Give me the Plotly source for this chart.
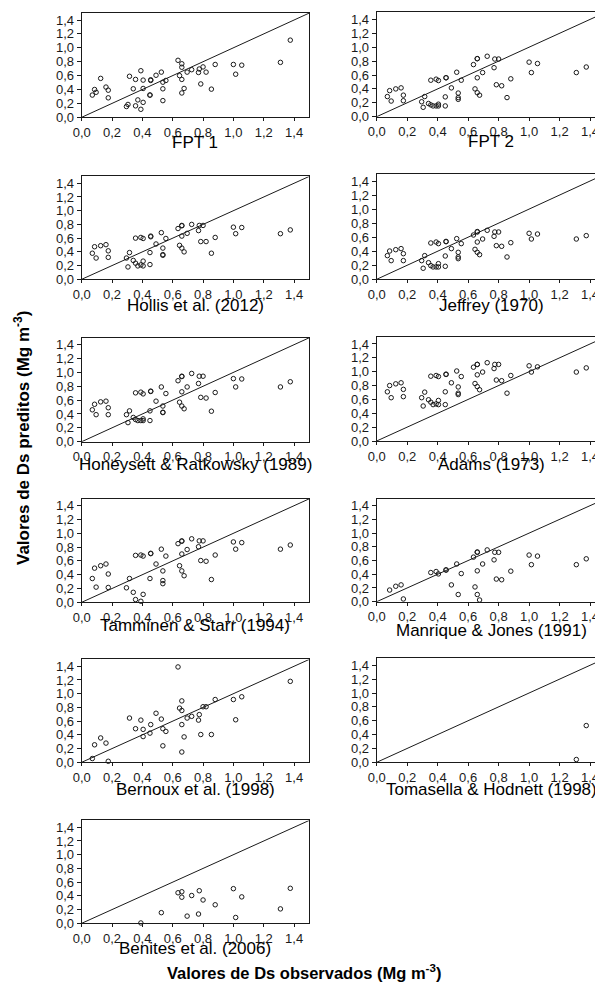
import plotly.graph_objects as go

# Observed Ds values (common to all panels)
obs = [0.07, 0.085, 0.095, 0.125, 0.16, 0.175, 0.175, 0.295, 0.305, 0.315,
       0.34, 0.355, 0.355, 0.37, 0.39, 0.39, 0.405, 0.405, 0.405, 0.455,
       0.455, 0.45, 0.45, 0.49, 0.525, 0.535, 0.535, 0.535, 0.555, 0.635,
       0.645, 0.66, 0.66, 0.66, 0.66, 0.675, 0.695, 0.725, 0.77, 0.775,
       0.785, 0.80, 0.82, 0.855, 0.88, 1.00, 1.015, 1.055, 1.31, 1.375]

N = None
fpt1 = [.32, .40, .36, .56, .435, .39, .28, .155, .185, .59,
        .41, .545, .165, .25, .67, .115, .535, .215, .415, .54,
        .53, .32, .32, .605, .65, .505, .41, .24, .53, .82,
        .60, .77, .72, .545, .35, .415, .65, .685, .645, .695,
        .48, .725, .65, .405, .76, .76, .62, .75, .79, 1.11]
fpt2 = [.29, .375, .225, .40, .415, .31, .23, .215, .135, .29,
        .19, .525, .17, .155, .54, .155, .52, .18, .155, .56,
        .56, .285, .155, .415, .64, .34, .275, .25, .525, .75,
        .40, .835, .835, .56, .345, .31, .635, .87, .705, .83,
        .46, .83, .445, .275, .545, .785, .635, .765, .635, .715]
hollis = [.38, .475, .31, .49, .505, .415, .32, .31, .18, .39,
          .275, .60, .235, .195, .61, .21, .595, .265, .195, .63,
          .62, .39, .215, .515, .68, .455, .36, .35, .595, .74,
          .495, .785, .78, .63, .455, .40, .67, .80, .71, .785,
          .55, .785, .55, .38, .61, .76, .665, .755, .665, .72]
jeffrey = [.337, .403, .266, .422, .437, .365, .266, .266, .157, .337,
           .237, .517, .195, .176, .531, .176, .508, .223, .176, .54,
           .535, .332, .185, .437, .579, .384, .318, .294, .508, .631,
           .427, .674, .68, .531, .384, .351, .574, .698, .612, .674,
           .479, .674, .47, .318, .522, .655, .574, .645, .574, .622]
honeysett = [.46, .54, .39, .575, .585, .49, .39, .39, .275, .445,
             .35, .705, .32, .305, .715, .305, .69, .33, .305, .73,
             .725, .445, .305, .585, .79, .515, .425, .42, .695, .88,
             .57, .945, .94, .72, .515, .475, .79, .985, .84, .945,
             .64, .945, .63, .44, .71, .91, .79, .905, .79, .865]
adams = [.71, .80, .625, .825, .84, .745, .64, .625, .505, .705,
         .595, .935, .56, .525, .945, .535, .93, .585, .525, .96,
         .965, .71, .525, .84, 1.01, .78, .69, .67, .93, 1.065,
         .83, 1.105, 1.105, .955, .785, .74, .995, 1.13, 1.045, 1.105,
         .88, 1.105, .87, .69, .945, 1.085, .995, 1.07, .995, 1.055]
tamminen = [.345, .495, .22, .53, .555, .41, .215, .21, N, .345,
            .145, .68, .04, N, .685, .015, .67, .115, N, .71,
            .705, .345, N, .555, .77, .455, .315, .27, .67, .85,
            .53, .89, .885, .70, .455, .385, .765, .92, .805, .89,
            .605, .89, .595, .33, .685, .875, .77, .865, .77, .83]
manrique = [N, .17, N, .225, .245, N, .04, N, N, N,
            N, .425, N, N, .44, N, .405, N, N, .46,
            .465, N, N, .245, .55, .105, N, N, .41, .65,
            .215, .725, .72, .45, .105, .025, .55, .755, .61, .72,
            .33, .72, .32, N, .445, .68, .54, .665, .54, .625]
bernoux = [.055, .255, N, .355, .28, .015, N, N, N, .645,
           N, .49, N, N, .615, N, .48, .375, N, .55,
           N, .425, N, .715, .63, .49, .24, N, .45, 1.39,
           .79, .895, .755, .55, .15, .37, .645, .67, .615, .695,
           .405, .81, .81, .405, .915, .915, .62, .955, N, 1.18]
tomasella = [N] * 48 + [.04, .53]
benites = [N, N, N, N, N, N, N, N, N, N,
           N, N, N, N, .005, N, N, N, N, N,
           N, N, N, N, .155, N, N, N, N, .445,
           N, .46, N, .38, N, N, .105, .405, .135, .475,
           N, .34, N, N, .27, .505, .085, .385, .21, .51]

titles = ["FPT 1", "FPT 2", "Hollis et al. (2012)", "Jeffrey (1970)",
          "Honeysett & Ratkowsky (1989)", "Adams (1973)",
          "Tamminen & Starr (1994)", "Manrique & Jones (1991)",
          "Bernoux et al. (1998)", "Tomasella & Hodnett (1998)",
          "Benites et al. (2006)"]
series = [fpt1, fpt2, hollis, jeffrey, honeysett, adams, tamminen,
          manrique, bernoux, tomasella, benites]

ref_line = [0.0, 1.5]
tick_vals = [0.0, 0.2, 0.4, 0.6, 0.8, 1.0, 1.2, 1.4]

# the page body has an 8px margin, so the figure starts at (8, 8)
OFF = 8
W, H = 603 - OFF, 985 - OFF
# panel geometry in window pixels: (column, y of zero, px per unit y, title offset)
geom = [(0, 117.3, 69.5, 25.0), (1, 116.7, 69.5, 25.0),
        (0, 279.3, 68.6, 26.0), (1, 279.3, 70.2, 26.0),
        (0, 441.7, 69.3, 23.0), (1, 441.0, 69.3, 23.5),
        (0, 602.3, 69.0, 23.0), (1, 601.7, 68.6, 28.5),
        (0, 762.3, 68.6, 27.5), (1, 762.3, 69.3, 27.5),
        (0, 923.3, 68.6, 25.5)]
col_x = {0: (81.7, 151.7), 1: (376.7, 152.4)}

FONT = "Liberation Sans, Arial, sans-serif"
INK = "#1a1a1a"


def px_x(p):
    return (p - OFF) / W


def px_y(p):
    return 1 - (p - OFF) / H


fig = go.Figure()
layout = {}
annotations = []
for i, (name, vals, g) in enumerate(zip(titles, series, geom)):
    k = i + 1
    col, y0, uy, toff = g
    x0, ux = col_x[col]
    xa = "x" if k == 1 else f"x{k}"
    ya = "y" if k == 1 else f"y{k}"
    xs = [o for o, v in zip(obs, vals) if v is not None]
    ys = [v for v in vals if v is not None]
    fig.add_trace(go.Scatter(x=ref_line, y=ref_line, mode="lines",
                             line=dict(color=INK, width=1),
                             xaxis=xa, yaxis=ya, hoverinfo="skip",
                             showlegend=False))
    fig.add_trace(go.Scatter(x=xs, y=ys, mode="markers",
                             marker=dict(symbol="circle-open", size=4.5,
                                         color=INK, line=dict(width=1)),
                             cliponaxis=False,
                             xaxis=xa, yaxis=ya, showlegend=False))
    x1 = min(x0 + 1.5 * ux, 603)
    xmax = (x1 - x0) / ux
    common = dict(showline=True, linecolor=INK, linewidth=1, mirror=True,
                  ticks="outside", ticklen=3, tickwidth=1, tickcolor=INK,
                  showgrid=False, zeroline=False, tickvals=tick_vals,
                  tickformat=".1f", automargin=False,
                  tickfont=dict(family=FONT, size=13, color=INK))
    layout["xaxis" if k == 1 else f"xaxis{k}"] = dict(
        common, range=[0, xmax], domain=[px_x(x0), min(px_x(x1), 1.0)],
        anchor=ya)
    top = y0 - 1.5 * uy
    layout["yaxis" if k == 1 else f"yaxis{k}"] = dict(
        common, range=[0, 1.5], domain=[px_y(y0), px_y(top)],
        anchor=xa, ticklen=4)
    annotations.append(dict(text=name, xref="paper", yref="paper",
                            x=px_x(x0 + 1.5 * ux / 2),
                            y=px_y(y0 + toff),
                            xanchor="center", yanchor="middle",
                            showarrow=False,
                            font=dict(family=FONT, size=17, color="#000")))

annotations.append(dict(text="<b>Valores de Ds preditos (Mg m<sup>-3</sup>)</b>",
                        xref="paper", yref="paper", x=px_x(22), y=px_y(438),
                        textangle=-90, xanchor="center", yanchor="middle",
                        showarrow=False,
                        font=dict(family=FONT, size=17, color="#000")))
annotations.append(dict(text="<b>Valores de Ds observados (Mg m<sup>-3</sup>)</b>",
                        xref="paper", yref="paper", x=px_x(304), y=px_y(972),
                        xanchor="center", yanchor="middle",
                        showarrow=False,
                        font=dict(family=FONT, size=16.5, color="#000")))

fig.update_layout(width=W, height=H, margin=dict(l=0, r=0, t=0, b=0, pad=0),
                  paper_bgcolor="white", plot_bgcolor="white",
                  separators=",.", showlegend=False,
                  annotations=annotations, **layout)
fig.write_html("out.html")
